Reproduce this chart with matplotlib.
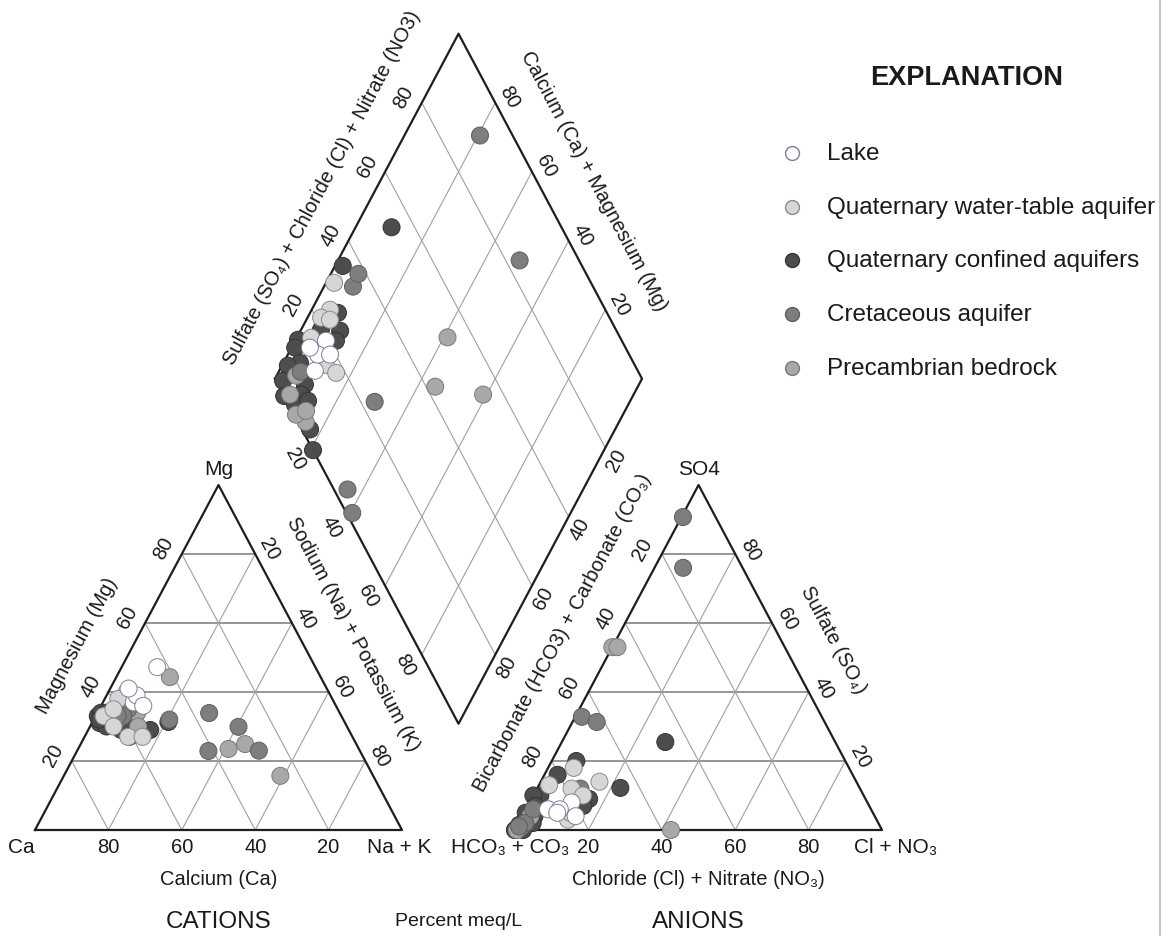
import numpy as np
import matplotlib
matplotlib.use("Agg")
import matplotlib.pyplot as plt
from matplotlib.lines import Line2D
from matplotlib.patches import Rectangle

plt.rcParams['font.family'] = ['Liberation Sans', 'DejaVu Sans']

# ---------------- data (percent meq/L) ----------------
groups = ["Lake", "Quaternary water-table aquifer", "Quaternary confined aquifers",
          "Cretaceous aquifer", "Precambrian bedrock"]
group_fill = ["#ffffff", "#d6d6d6", "#4d4d4d", "#7e7e7e", "#a8a8a8"]
group_edge = ["#7a7f9a", "#8a8a8a", "#333333", "#5e5e5e", "#7a7a7a"]

# group index of each sample
sample_group = [2, 2, 2, 2, 2, 2, 2, 2, 2, 2, 2, 2, 2, 2, 2, 2, 2, 2,
                4, 4, 4, 4, 4, 4, 4, 4,
                3, 3, 3, 3, 3, 3, 3, 3,
                1, 1, 1, 1, 1, 1, 1,
                0, 0, 0, 0, 0]
magnesium = [35, 31, 31.3, 36, 30, 39, 28, 33, 34, 30, 32, 34, 29, 30, 33, 31, 27, 29,
             23.5, 15.7, 24.9, 44.3, 33, 32, 34, 30,
             32, 23, 33.9, 22.9, 29.9, 35, 33, 33,
             33, 40, 38, 30, 35, 27, 27,
             47.2, 37, 39, 36, 41]
sodium_potassium = [9.8, 2.1, 20.7, 7.6, 10.8, 5.4, 11.1, 0.6, 1.0, 4.5, 1.6, 2.5, 9.0, 9.4, 5.0, 9.2, 12.2, 16.9,
                    41, 59, 44.8, 14.6, 5.3, 6.4, 10.9, 13.1,
                    20.6, 49.5, 30.5, 35.8, 40.5, 7.9, 7.5, 6.0,
                    2.2, 5.0, 3.7, 6.4, 3.9, 11.9, 15.8,
                    9.7, 8.4, 8.2, 11.5, 5.0]
sulfate = [25.5, 12.2, 0, 20, 9, 16, 7, 10, 10, 7, 5, 1.5, 4, 2, 0, 1, 2, 0,
           53, 53, 0, 1, 4, 1, 0, 2,
           90.7, 76, 12, 2, 1, 32.8, 31.3, 6,
           14, 18, 12, 10, 13, 3, 5,
           6, 8, 6, 4, 5]
chloride_nitrate = [28.2, 22.6, 0, 6.7, 15.7, 3.6, 15.1, 1.9, 0, 2.1, 0.4, 0.4, 3.3, 2.8, 0, 0.7, 3.8, 2.2,
                    0, 1.4, 42.5, 1.1, 2.2, 0.8, 0.5, 1.8,
                    0.4, 7.8, 11.8, 1.7, 0.6, 1.8, 6.6, 2.0,
                    16, 7, 9.4, 13.5, 2.8, 12.9, 12.5,
                    6, 11.4, 9.2, 14.5, 9]

tick_values = [20, 40, 60, 80]

# ---------------- geometry ----------------
H = np.sqrt(3) / 2
GAP = 0.308
XS, YS = 367.0, 345.0 / H          # pixels per unit
W_PX, H_PX = 1168, 937
X0, Y0 = 35.0, 831.0               # pixel position of the Ca vertex

fig = plt.figure(figsize=(W_PX / 100, H_PX / 100), dpi=100)
ax = fig.add_axes([0, 0, 1, 1])
ax.set_xlim(-X0 / XS, (W_PX - X0) / XS)
ax.set_ylim((Y0 - H_PX) / YS, Y0 / YS)
ax.axis('off')

ANG = np.degrees(np.arctan2(H * YS, 0.5 * XS))


def cat_xy(mg, nak):
    mg, nak = np.asarray(mg) / 100, np.asarray(nak) / 100
    return nak + 0.5 * mg, H * mg


def an_xy(so4, cl):
    so4, cl = np.asarray(so4) / 100, np.asarray(cl) / 100
    return 1 + GAP + cl + 0.5 * so4, H * so4


D_LEFT = np.array([1 + GAP / 2 - 0.5, GAP * H + H])
D_BOT = np.array([1 + GAP / 2, GAP * H])
D_TOP = np.array([1 + GAP / 2, GAP * H + 2 * H])
D_RIGHT = np.array([1 + GAP / 2 + 0.5, GAP * H + H])


def dia_xy(nak, scl):
    nak, scl = np.asarray(nak) / 100, np.asarray(scl) / 100
    return D_LEFT[0] + 0.5 * (nak + scl), D_LEFT[1] + H * (scl - nak)


GRID = dict(color="#a0a0a0", lw=0.8, zorder=1)
HGRID = dict(color="#8e8e8e", lw=1.3, zorder=1)
EDGE = dict(color="#1e1e1e", lw=1.6, zorder=2)


def tri_frame(x0):
    A, B, C = np.array([x0, 0]), np.array([x0 + 1, 0]), np.array([x0 + 0.5, H])
    ax.plot([A[0], B[0], C[0], A[0]], [A[1], B[1], C[1], A[1]], **EDGE)
    for v in tick_values:
        f = v / 100
        p, q = A + f * (C - A), B + f * (C - B)
        ax.plot([p[0], q[0]], [p[1], q[1]], **HGRID)
        p, q = A + f * (B - A), A + f * (C - A)
        ax.plot([p[0], q[0]], [p[1], q[1]], **GRID)
        p, q = B + f * (A - B), B + f * (C - B)
        ax.plot([p[0], q[0]], [p[1], q[1]], **GRID)
    return A, B, C


cA, cB, cC = tri_frame(0.0)
aA, aB, aC = tri_frame(1 + GAP)

# diamond
ax.plot([D_LEFT[0], D_TOP[0], D_RIGHT[0], D_BOT[0], D_LEFT[0]],
        [D_LEFT[1], D_TOP[1], D_RIGHT[1], D_BOT[1], D_LEFT[1]], **EDGE)
for v in tick_values:
    f = v / 100
    p, q = D_LEFT + f * (D_BOT - D_LEFT), D_TOP + f * (D_RIGHT - D_TOP)
    ax.plot([p[0], q[0]], [p[1], q[1]], **GRID)
    p, q = D_LEFT + f * (D_TOP - D_LEFT), D_BOT + f * (D_RIGHT - D_BOT)
    ax.plot([p[0], q[0]], [p[1], q[1]], **GRID)


def lab(text, xy, off, rot=0, size=14.5, **kw):
    ax.annotate(text, xy=xy, xytext=off, textcoords='offset pixels',
                ha='center', va='center', rotation=rot, rotation_mode='anchor',
                fontsize=size, color="#1a1a1a", **kw)


TS = 14.5
for v in tick_values:
    f = v / 100
    # cation triangle
    lab(str(v), cA + (1 - f) * (cB - cA), (0, -17), size=TS)
    lab(str(v), cA + f * (cC - cA), (-18, 6), ANG, TS)
    lab(str(v), cC + f * (cB - cC), (14, 6), -ANG, TS)
    # anion triangle
    lab(str(v), aA + f * (aB - aA), (0, -17), size=TS)
    lab(str(v), aC + f * (aA - aC), (-19, 5), ANG, TS)
    lab(str(v), aB + f * (aC - aB), (15, 5), -ANG, TS)
    # diamond
    lab(str(v), D_LEFT + f * (D_TOP - D_LEFT), (-18, 6), ANG, TS)
    lab(str(v), D_RIGHT + f * (D_TOP - D_RIGHT), (14, 6), -ANG, TS)
    lab(str(v), D_LEFT + f * (D_BOT - D_LEFT), (-17, -10), -ANG, TS)
    lab(str(v), D_RIGHT + f * (D_BOT - D_RIGHT), (11, -12), ANG, TS)

VS = 15
lab("Ca", cA, (-14, -17), size=VS)
lab("Na + K", cB, (-3, -17), size=VS)
lab("Mg", cC, (0, 16), size=VS)
lab("HCO\u2083 + CO\u2083", aA, (-5, -17), size=VS)
lab("Cl + NO\u2083", aB, (14, -17), size=VS)
lab("SO4", aC, (0, 16), size=VS)

AS = 14.5
lab("Calcium (Ca)", (0.5, 0), (0, -49), size=AS)
lab("Magnesium (Mg)", (cA + cC) / 2, (-50, 13), ANG, AS)
lab("Sodium (Na) + Potassium (K)", (cB + cC) / 2, (43, 24), -ANG, AS)
lab("Chloride (Cl) + Nitrate (NO\u2083)", (1.5 + GAP, 0), (0, -49), size=AS)
lab("Bicarbonate (HCO3) + Carbonate (CO\u2083)", (aA + aC) / 2, (-44, 26), ANG, AS)
lab("Sulfate (SO\u2084)", (aB + aC) / 2, (43, 18), -ANG, AS)
lab("Sulfate (SO\u2084) + Chloride (Cl) + Nitrate (NO3)", (D_LEFT + D_TOP) / 2, (-45, 19), ANG, AS)
lab("Calcium (Ca) + Magnesium (Mg)", (D_RIGHT + D_TOP) / 2, (44, 26), -ANG, AS)

lab("CATIONS", (0.5, 0), (0, -91), size=17.5)
lab("ANIONS", (1.5 + GAP, 0), (0, -91), size=17.5)
lab("Percent meq/L", (1 + GAP / 2, 0), (0, -91), size=14)

# ---------------- points ----------------
sg = np.array(sample_group)
mg = np.array(magnesium, float)
nk = np.array(sodium_potassium, float)
so = np.array(sulfate, float)
cl = np.array(chloride_nitrate, float)
fills = [group_fill[g] for g in sg]
edges = [group_edge[g] for g in sg]
MS = 150
for xy in (cat_xy(mg, nk), an_xy(so, cl), dia_xy(nk, so + cl)):
    ax.scatter(xy[0], xy[1], s=MS, c=fills, edgecolors=edges, linewidths=0.7, zorder=5)

# ---------------- explanation ----------------
fig.text(967 / W_PX, 1 - 78 / H_PX, "EXPLANATION", ha='center', va='center',
         fontsize=19.5, fontweight='bold', color="#1a1a1a")
for i, name in enumerate(groups):
    yy = 1 - (154 + 53.7 * i) / H_PX
    fig.add_artist(Line2D([792 / W_PX], [yy], marker='o', markersize=10,
                          markerfacecolor=group_fill[i], markeredgecolor=group_edge[i],
                          markeredgewidth=1.0, linestyle='none', transform=fig.transFigure))
    fig.text(827 / W_PX, yy, name, ha='left', va='center', fontsize=17.5, color="#1a1a1a")

fig.add_artist(Rectangle((1160 / W_PX, 0), 8 / W_PX, 1, facecolor='white', edgecolor='none',
                         transform=fig.transFigure, zorder=20))
fig.add_artist(Line2D([1159.5 / W_PX] * 2, [0, 1], color="#c4c4c4", lw=1.5,
                      transform=fig.transFigure, zorder=21))

fig.savefig("out.png", dpi=100, facecolor='white')
